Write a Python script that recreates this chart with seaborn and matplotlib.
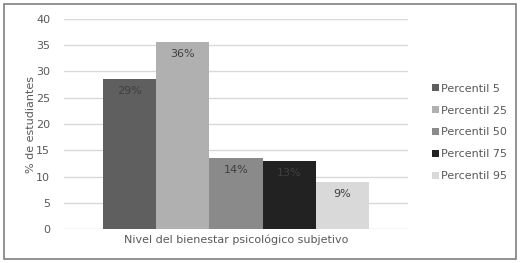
import numpy as np
import pandas as pd
import seaborn as sns
import matplotlib.pyplot as plt
from matplotlib.patches import Rectangle

categoria = ["Nivel del bienestar psicológico subjetivo"]
percentiles = ["Percentil 5", "Percentil 25", "Percentil 50", "Percentil 75", "Percentil 95"]
valores = [28.5, 35.6, 13.5, 13.0, 9.0]
etiquetas = ["29%", "36%", "14%", "13%", "9%"]
colores = ["#5f5f5f", "#b0b0b0", "#8a8a8a", "#222222", "#d9d9d9"]

df = pd.DataFrame({"cat": categoria * len(percentiles), "perc": percentiles, "val": valores})

sns.set_style("white")
plt.rcParams['font.family'] = ['DejaVu Sans']

fig = plt.figure(figsize=(5.2, 2.63), dpi=100)
ax = fig.add_axes([0.123, 0.129, 0.662, 0.799])
sns.barplot(data=df, x="cat", y="val", hue="perc", palette=colores, width=0.773,
            saturation=1, linewidth=0, ax=ax, legend=True)

ax.set_ylim(0, 40)
ax.set_yticks(range(0, 41, 5))
ax.yaxis.grid(True, color="#d9d9d9", linewidth=1)
ax.set_axisbelow(True)
for s in ax.spines.values():
    s.set_visible(False)
ax.tick_params(axis="y", length=0, labelsize=8, colors="#595959", pad=10)
ax.tick_params(axis="x", length=0, labelsize=8, colors="#595959", pad=4)
ax.set_xlabel("")
ax.set_ylabel("% de estudiantes", fontsize=8, color="#595959", labelpad=0)

for bar, lab in zip(ax.patches, etiquetas):
    ax.text(bar.get_x() + bar.get_width() / 2, bar.get_height() - 1.3, lab,
            ha="center", va="top", fontsize=8, color="#404040")

ax.legend(loc="center left", bbox_to_anchor=(1.04, 0.46), frameon=False, fontsize=8,
          handlelength=0.6, handleheight=0.6, handletextpad=0.2, labelspacing=1.07,
          labelcolor="#595959")

fig.patches.append(Rectangle((4 / 520, 4 / 263), 512 / 520, 255 / 263, transform=fig.transFigure,
                             fill=False, edgecolor="#808080", linewidth=1.2))

fig.savefig("out.png", dpi=100)
